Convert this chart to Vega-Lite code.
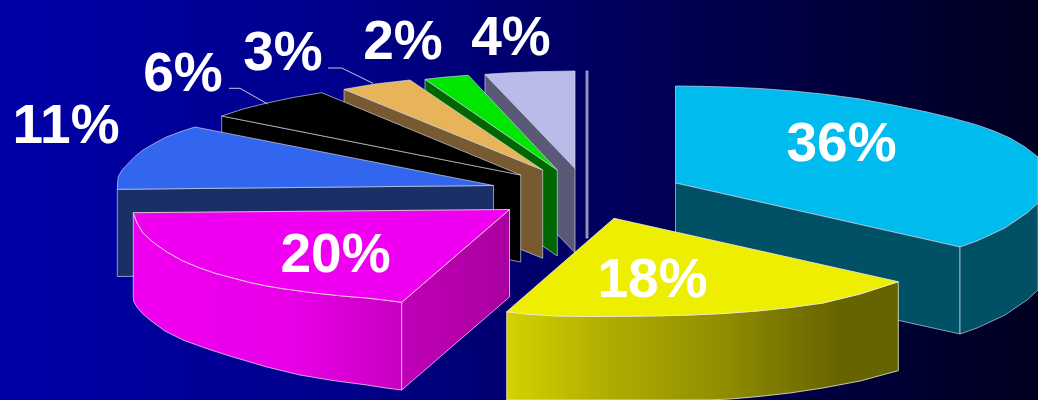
{
  "$schema": "https://vega.github.io/schema/vega-lite/v6.json",
  "width": 1038,
  "height": 400,
  "padding": 0,
  "autosize": "none",
  "view": {
    "stroke": null,
    "fill": {
      "gradient": "linear", "x1": 0, "x2": 1, "y1": 0, "y2": 0,
      "stops": [
        {"offset": 0, "color": "#0000a8"},
        {"offset": 0.33, "color": "#00008c"},
        {"offset": 0.64, "color": "#000055"},
        {"offset": 1, "color": "#000020"}
      ]
    }
  },
  "projection": {"type": "identity", "scale": 1, "translate": [0, 0]},
  "resolve": {"scale": {"fill": "independent"}},
  "datasets": {
    "faces": [
      {"type": "Feature", "properties": {"part": "axis"}, "geometry": {"type": "Polygon", "coordinates": [[[586,71],[588,71],[588,238],[586,238],[586,71]]]}},
      {"type": "Feature", "properties": {"part": "36-top"}, "geometry": {"type": "Polygon", "coordinates": [[[675.5,86],[700,86.3],[727,87],[760,88.5],[793,91],[827,94.5],[860,99],[893,105],[927,112],[952,118],[977,125],[994,131],[1010,138],[1025,147],[1038,157],[1038,203],[1027,213],[1005,228],[977,241],[960,247],[675.5,183],[675.5,86]]]}},
      {"type": "Feature", "properties": {"part": "36-side"}, "geometry": {"type": "Polygon", "coordinates": [[[675.5,183],[960,247],[960,334],[675.5,271],[675.5,183]]]}},
      {"type": "Feature", "properties": {"part": "36-side"}, "geometry": {"type": "Polygon", "coordinates": [[[960,247],[977,241],[1005,228],[1027,213],[1038,203],[1038,290],[1027,300],[1005,315],[977,328],[960,334],[960,247]]]}},
      {"type": "Feature", "properties": {"part": "4-side"}, "geometry": {"type": "Polygon", "coordinates": [[[485,74.3],[575,168.3],[575,252.7],[485,160],[485,74.3]]]}},
      {"type": "Feature", "properties": {"part": "4-top"}, "geometry": {"type": "Polygon", "coordinates": [[[485,74.3],[510,72.8],[536.7,71.7],[575,71],[575,168.3],[485,74.3]]]}},
      {"type": "Feature", "properties": {"part": "2-side"}, "geometry": {"type": "Polygon", "coordinates": [[[425,79.3],[557.3,170],[557.3,256],[425,165],[425,79.3]]]}},
      {"type": "Feature", "properties": {"part": "2-top"}, "geometry": {"type": "Polygon", "coordinates": [[[425,79.3],[446,77],[468.3,75.3],[557.3,170],[425,79.3]]]}},
      {"type": "Feature", "properties": {"part": "3-side"}, "geometry": {"type": "Polygon", "coordinates": [[[344,89.3],[542.7,170],[542.7,258.3],[344,177.6],[344,89.3]]]}},
      {"type": "Feature", "properties": {"part": "3-top"}, "geometry": {"type": "Polygon", "coordinates": [[[344,89.3],[375,84],[410,80],[542.7,170],[344,89.3]]]}},
      {"type": "Feature", "properties": {"part": "6-side"}, "geometry": {"type": "Polygon", "coordinates": [[[221.7,116],[520.7,175],[520.7,262],[221.7,203],[221.7,116]]]}},
      {"type": "Feature", "properties": {"part": "6-top"}, "geometry": {"type": "Polygon", "coordinates": [[[221.7,116],[243,109],[267,103],[293,97.5],[321.7,92.7],[520.7,175],[221.7,116]]]}},
      {"type": "Feature", "properties": {"part": "11-side"}, "geometry": {"type": "Polygon", "coordinates": [[[117.3,189.3],[493.5,185.5],[493.5,272],[117.3,276.5],[117.3,189.3]]]}},
      {"type": "Feature", "properties": {"part": "11-top"}, "geometry": {"type": "Polygon", "coordinates": [[[117.3,189.3],[117.5,183],[118.3,176.7],[122,170],[128.3,163.3],[135,156.5],[143,150],[155,143],[167,136.7],[181,131.5],[195,127],[493.5,185.5],[117.3,189.3]]]}}
    ],
    "shaded": [
      {"type": "Feature", "properties": {"part": "20-front"}, "geometry": {"type": "Polygon", "coordinates": [[[133.3,212.7],[137,223],[143,233],[154,243],[167,252],[183,261],[200,268],[216,273.5],[233,278],[250,282.5],[267,286],[283,288.7],[300,291],[316,293.2],[333,295],[350,296.7],[367,298],[384,300],[401.7,302.3],[401.7,390],[384,387.7],[367,385],[333,380.5],[300,375],[267,367],[233,357],[208,349],[183,340],[165,331],[150,320],[142,313],[137,307],[134,302],[133.3,298],[133.3,212.7]]]}},
      {"type": "Feature", "properties": {"part": "20-right"}, "geometry": {"type": "Polygon", "coordinates": [[[401.7,302.3],[509.5,209.5],[509.5,297],[401.7,390],[401.7,302.3]]]}},
      {"type": "Feature", "properties": {"part": "18-front"}, "geometry": {"type": "Polygon", "coordinates": [[[506.7,311.7],[530,314.3],[557,316],[590,316.5],[623,316.3],[657,315.8],[690,315],[723,313.5],[757,311],[790,307.5],[823,303],[860,294],[898.3,281.7],[898.3,370.7],[860,381],[823,388],[790,393],[757,396.7],[730,399],[707,400],[506.7,400],[506.7,311.7]]]}}
    ],
    "tops": [
      {"type": "Feature", "properties": {"part": "20-top"}, "geometry": {"type": "Polygon", "coordinates": [[[133.3,212.7],[509.5,209.5],[401.7,302.3],[384,300],[367,298],[350,296.7],[333,295],[316,293.2],[300,291],[283,288.7],[267,286],[250,282.5],[233,278],[216,273.5],[200,268],[183,261],[167,252],[154,243],[143,233],[137,223],[133.3,212.7]]]}},
      {"type": "Feature", "properties": {"part": "18-top"}, "geometry": {"type": "Polygon", "coordinates": [[[614,218.3],[898.3,281.7],[860,294],[823,303],[790,307.5],[757,311],[723,313.5],[690,315],[657,315.8],[623,316.3],[590,316.5],[557,316],[530,314.3],[506.7,311.7],[614,218.3]]]}}
    ],
    "leaders": [
      {"type": "Feature", "properties": {"part": "6"}, "geometry": {"type": "LineString", "coordinates": [[229,88.3],[240,88.3],[267.7,104]]}},
      {"type": "Feature", "properties": {"part": "3"}, "geometry": {"type": "LineString", "coordinates": [[328,68],[341.7,68],[373,83.3]]}}
    ],
    "labels": [
      {"label": "36%", "lon": 841.5, "lat": 160.5},
      {"label": "18%", "lon": 652.5, "lat": 296.5},
      {"label": "20%", "lon": 335.5, "lat": 272},
      {"label": "11%", "lon": 66, "lat": 143},
      {"label": "6%", "lon": 183, "lat": 90.5},
      {"label": "3%", "lon": 283, "lat": 70},
      {"label": "2%", "lon": 403, "lat": 58.5},
      {"label": "4%", "lon": 511, "lat": 55}
    ]
  },
  "layer": [
    {
      "data": {"name": "faces"},
      "mark": {"type": "geoshape", "stroke": "#cfd4e4", "strokeWidth": 0.8, "strokeOpacity": 0.85},
      "encoding": {
        "fill": {
          "field": "properties.part",
          "type": "nominal",
          "legend": null,
          "scale": {
            "domain": ["axis", "36-top", "36-side", "4-top", "4-side", "2-top", "2-side", "3-top", "3-side", "6-top", "6-side", "11-top", "11-side"],
            "range": ["#6f6fa0", "#00bbee", "#005066", "#bbbbea", "#5a5a78", "#00e600", "#006600", "#e8b45a", "#775a2f", "#000000", "#000000", "#3366ee", "#1a2f66"]
          }
        }
      }
    },
    {
      "data": {"name": "shaded"},
      "transform": [{"filter": "datum.properties.part === '20-front'"}],
      "mark": {
        "type": "geoshape", "stroke": "#f0c8f0", "strokeWidth": 0.8,
        "fill": {"gradient": "linear", "x1": 0, "x2": 1, "y1": 0, "y2": 0, "stops": [
          {"offset": 0, "color": "#f000f0"},
          {"offset": 0.6, "color": "#e800e8"},
          {"offset": 1, "color": "#c800c0"}
        ]}
      }
    },
    {
      "data": {"name": "shaded"},
      "transform": [{"filter": "datum.properties.part === '20-right'"}],
      "mark": {
        "type": "geoshape", "stroke": "#f0c8f0", "strokeWidth": 0.8,
        "fill": {"gradient": "linear", "x1": 0, "x2": 1, "y1": 0, "y2": 0, "stops": [
          {"offset": 0, "color": "#c000b8"},
          {"offset": 1, "color": "#aa00a0"}
        ]}
      }
    },
    {
      "data": {"name": "shaded"},
      "transform": [{"filter": "datum.properties.part === '18-front'"}],
      "mark": {
        "type": "geoshape", "stroke": "#eeeecc", "strokeWidth": 0.8,
        "fill": {"gradient": "linear", "x1": 0, "x2": 1, "y1": 0, "y2": 0, "stops": [
          {"offset": 0, "color": "#d4d200"},
          {"offset": 0.25, "color": "#b0ae00"},
          {"offset": 0.55, "color": "#908e00"},
          {"offset": 0.85, "color": "#666400"},
          {"offset": 1, "color": "#666400"}
        ]}
      }
    },
    {
      "data": {"name": "tops"},
      "mark": {"type": "geoshape", "stroke": "#f4ecd8", "strokeWidth": 0.8},
      "encoding": {
        "fill": {
          "field": "properties.part",
          "type": "nominal",
          "legend": null,
          "scale": {"domain": ["20-top", "18-top"], "range": ["#f000f0", "#eeee00"]}
        }
      }
    },
    {
      "data": {"name": "leaders"},
      "mark": {"type": "geoshape", "filled": false, "stroke": "#c8c8dc", "strokeWidth": 1}
    },
    {
      "data": {"name": "labels"},
      "mark": {"type": "text", "font": "Liberation Sans", "fontWeight": "bold", "fontSize": 55, "color": "#ffffff", "align": "center", "baseline": "alphabetic"},
      "encoding": {
        "longitude": {"field": "lon", "type": "quantitative"},
        "latitude": {"field": "lat", "type": "quantitative"},
        "text": {"field": "label", "type": "nominal"}
      }
    }
  ]
}
